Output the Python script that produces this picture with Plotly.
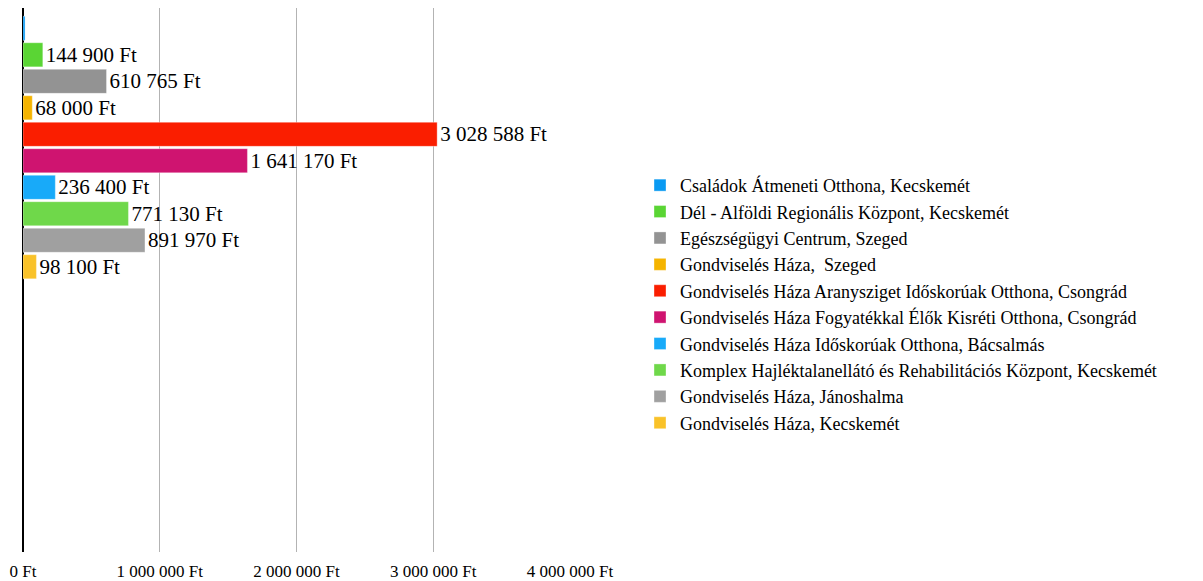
import plotly.graph_objects as go

series_names = [
    "Családok Átmeneti Otthona, Kecskemét",
    "Dél - Alföldi Regionális Központ, Kecskemét",
    "Egészségügyi Centrum, Szeged",
    "Gondviselés Háza,  Szeged",
    "Gondviselés Háza Aranysziget Időskorúak Otthona, Csongrád",
    "Gondviselés Háza Fogyatékkal Élők Kisréti Otthona, Csongrád",
    "Gondviselés Háza Időskorúak Otthona, Bácsalmás",
    "Komplex Hajléktalanellátó és Rehabilitációs Központ, Kecskemét",
    "Gondviselés Háza, Jánoshalma",
    "Gondviselés Háza, Kecskemét",
]
values = [15000, 144900, 610765, 68000, 3028588, 1641170, 236400, 771130, 891970, 98100]
show_label = [False, True, True, True, True, True, True, True, True, True]
colors = ["#0a9af2", "#5ad534", "#939393", "#f5b400", "#fa1e00",
          "#cf1470", "#18aaf9", "#6fd84a", "#a0a0a0", "#f9c229"]
categories = ["A", "B"]
tick_values = [0, 1000000, 2000000, 3000000, 4000000]
tick_labels = ["0 Ft", "1 000 000 Ft", "2 000 000 Ft", "3 000 000 Ft", "4 000 000 Ft"]

fig = go.Figure()
for name, v, c, lab in zip(series_names, values, colors, show_label):
    fig.add_trace(go.Bar(
        name=name, y=[categories[0]], x=[v], orientation="h",
        marker=dict(color=c, line=dict(width=1, color="rgba(255,255,255,0.35)")),
        texttemplate="%{x:,d} Ft" if lab else "",
        textposition="outside", cliponaxis=False,
        textfont=dict(family="Liberation Serif", size=21, color="#000000"),
    ))

fig.update_layout(
    width=1203, height=581,
    margin=dict(l=15, r=641, t=0, b=37, autoexpand=False),
    paper_bgcolor="white", plot_bgcolor="white",
    barmode="group", bargap=0.026, bargroupgap=0.09,
    separators=", ",
    font=dict(family="Liberation Serif", size=16, color="#000000"),
    showlegend=True,
    legend=dict(x=1.128, xanchor="left", y=0.456, yanchor="middle",
                font=dict(family="Liberation Serif", size=18, color="#000000"),
                traceorder="normal", itemwidth=30, bgcolor="rgba(0,0,0,0)"),
    xaxis=dict(range=[0, 4000000], tickvals=tick_values, ticktext=tick_labels,
               showgrid=True, gridcolor="#b3b3b3", gridwidth=1,
               zeroline=True, zerolinecolor="#000000", zerolinewidth=2,
               showline=False, ticks="", tickfont=dict(size=17), automargin=False,
               ticklabelstandoff=7),
    yaxis=dict(type="category", categoryorder="array", categoryarray=categories,
               range=[1.487, -0.513], showticklabels=False, showgrid=False,
               zeroline=False, showline=False, ticks="", automargin=False),
)

fig.write_html("out.html")
